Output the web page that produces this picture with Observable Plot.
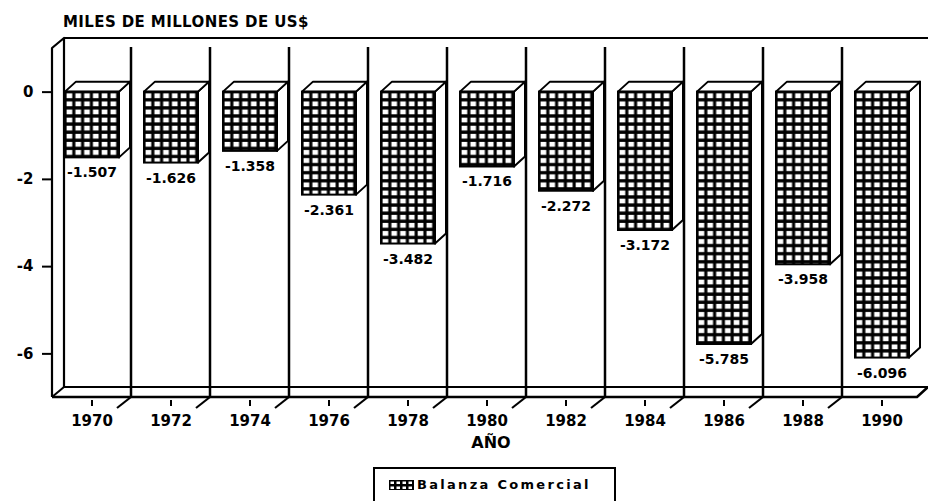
<!DOCTYPE html>
<html><head><meta charset="utf-8">
<script src="https://cdn.jsdelivr.net/npm/d3@7"></script>
<script src="https://cdn.jsdelivr.net/npm/@observablehq/plot@0.6"></script>
<style>
body{margin:0;background:#fff;font-family:"DejaVu Sans",sans-serif;font-weight:bold;color:#000;position:relative;width:928px;height:501px;overflow:hidden;}
#title{height:32px;box-sizing:border-box;padding:14px 0 0 63px;font-size:15px;line-height:16px;letter-spacing:0.4px;white-space:nowrap;}
#chart{height:432px;}
#legend{position:absolute;left:373px;top:467px;width:243px;height:40px;box-sizing:border-box;border:2px solid #000;}
#legend svg{position:absolute;left:14px;top:11px;}
#legend span{position:absolute;left:42px;top:8px;font-size:13px;line-height:15px;letter-spacing:2.3px;white-space:nowrap;}
</style></head><body>
<div id="title"></div>
<div id="chart"></div>
<div id="legend"><svg width="25" height="10"><defs><pattern id="gridL" patternUnits="userSpaceOnUse" x="0" y="0" width="6" height="5"><rect width="6" height="5" fill="#000"/><rect x="1.5" y="1.5" width="3.5" height="2.5" fill="#fff"/></pattern></defs><rect x="0.5" y="0.5" width="24" height="9" fill="url(#gridL)" stroke="#000"/></svg><span></span></div>
<script>
const years = [1970, 1972, 1974, 1976, 1978, 1980, 1982, 1984, 1986, 1988, 1990];
const balance = [-1.507, -1.626, -1.358, -2.361, -3.482, -1.716, -2.272, -3.172, -5.785, -3.958, -6.096];
const yTicks = [0, -2, -4, -6];
const yDomain = [-7, 1];
const seriesName = "Balanza Comercial";
const yTitle = "MILES DE MILLONES DE US$";
const xTitle = "AÑO";

document.getElementById("title").textContent = yTitle;
document.querySelector("#legend span").textContent = seriesName;

const data = years.map((year, i) => ({year, value: balance[i], label: balance[i].toFixed(3)}));

function frameRender(I, scales, values, dims) {
  const X = scales.x, Y = scales.y;
  const bw = X.bandwidth();
  const [xa, xb] = X.range();
  const yT = Y(yDomain[1]), yB = Y(yDomain[0]);
  const dx = 12, dy = -10;
  const g = d3.create("svg:g").attr("fill", "none").attr("stroke", "#000").attr("stroke-linejoin", "round");
  const line = (pts, w = 2) => g.append("path").attr("d", d3.line()(pts)).attr("stroke-width", w);
  line([[xa, yB], [xa, yT], [xa + dx, yT + dy], [xa + dx, yB + dy]], 2.2);
  line([[xa, yB], [xa + dx, yB + dy]], 2);
  line([[xa + dx, yT + dy], [dims.width, yT + dy]], 2.2);
  line([[xa + dx, yB + dy], [xb + 7, yB + dy]], 2);
  line([[xa, yB], [xb - 4, yB], [xb + 7, yB + dy]], 2.5);
  years.slice(0, -1).forEach(yr => {
    const sx = X(yr) + bw;
    line([[sx, yT - 1], [sx, yB]], 2.5);
    line([[sx, yB], [sx - 14, yB + 11]], 2.2);
  });
  return g.node();
}

function barsRender(I, scales) {
  const X = scales.x, Y = scales.y;
  const bw = X.bandwidth();
  const inset = 13, fw = 54, dx = 11, dy = -10;
  const y0 = Y(0);
  const cw = bw / 9, ch = 8.1;
  const g = d3.create("svg:g");
  const pat = g.append("defs").append("pattern").attr("id", "grid").attr("patternUnits", "userSpaceOnUse")
    .attr("x", X(years[0]) + inset).attr("y", y0).attr("width", cw).attr("height", ch);
  pat.append("rect").attr("width", cw).attr("height", ch).attr("fill", "#000");
  pat.append("rect").attr("x", 1.6).attr("y", 1.7).attr("width", cw - 3.1).attr("height", ch - 3.3).attr("fill", "#fff");
  for (const i of I) {
    const d = data[i];
    const l = X(d.year) + inset, r = l + fw, yb = Y(d.value);
    g.append("path").attr("d", `M${r},${y0}L${r + dx},${y0 + dy}L${r + dx},${yb + dy}L${r},${yb}Z`)
      .attr("fill", "#fff").attr("stroke", "#000").attr("stroke-width", 2).attr("stroke-linejoin", "round");
    g.append("path").attr("d", `M${l},${y0}L${l + dx},${y0 + dy}L${r + dx},${y0 + dy}L${r},${y0}Z`)
      .attr("fill", "#fff").attr("stroke", "#000").attr("stroke-width", 2).attr("stroke-linejoin", "round");
    g.append("rect").attr("x", l).attr("y", y0).attr("width", fw).attr("height", yb - y0)
      .attr("fill", "url(#grid)").attr("stroke", "#000").attr("stroke-width", 2);
  }
  return g.node();
}

const chart = Plot.plot({
  width: 928, height: 432,
  marginTop: 16, marginBottom: 67, marginLeft: 52, marginRight: 7,
  style: {fontFamily: "'DejaVu Sans', sans-serif", fontSize: "15px", fontWeight: "bold", color: "#000", background: "#fff", overflow: "visible"},
  x: {type: "band", domain: years, padding: 0, label: null},
  y: {domain: yDomain, label: null},
  marks: [
    Plot.frame({stroke: "none", render: frameRender}),
    Plot.axisY(yTicks, {tickSize: 10, tickPadding: 9, tickFormat: d => String(d), strokeWidth: 2, fontSize: 15, fontWeight: "bold", label: null}),
    Plot.axisX({tickSize: 6, tickPadding: 9, dy: 3, tickFormat: d => String(d), strokeWidth: 2, fontSize: 15, fontWeight: "bold", label: null}),
    Plot.barY(data, {x: "year", y: "value", render: barsRender}),
    Plot.text(data, {x: "year", y: "value", text: "label", dy: 15, fontSize: 14, fontWeight: "bold"}),
    Plot.text([xTitle], {text: d => d, frameAnchor: "bottom", dx: 4, dy: 50, fontSize: 16, fontWeight: "bold"})
  ]
});
document.getElementById("chart").appendChild(chart);
</script>
</body></html>
